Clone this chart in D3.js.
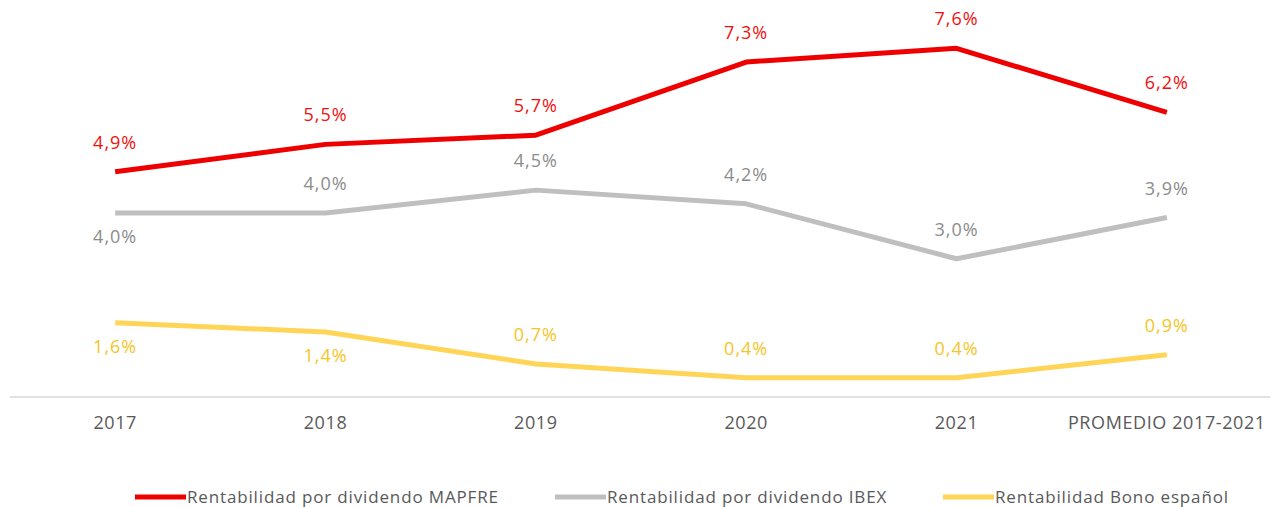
<!DOCTYPE html>
<html>
<head>
<meta charset="utf-8">
<script src="https://cdn.jsdelivr.net/npm/d3@7"></script>
<style>
  body { margin: 0; background: #fff; }
  text { font-family: "Open Sans", sans-serif; }
</style>
</head>
<body>
<script>
// datos
const categories = ['2017', '2018', '2019', '2020', '2021', 'PROMEDIO 2017-2021'];
const mapfre = [4.9, 5.5, 5.7, 7.3, 7.6, 6.2];
const ibex = [4.0, 4.0, 4.5, 4.2, 3.0, 3.9];
const bono = [1.6, 1.4, 0.7, 0.4, 0.4, 0.9];
const seriesNames = ['Rentabilidad por dividendo MAPFRE', 'Rentabilidad por dividendo IBEX', 'Rentabilidad Bono español'];
// posicion de la etiqueta: -1 encima, 1 debajo
const ibexLabelPos = [1, -1, -1, -1, -1, -1];
const bonoLabelPos = [1, 1, -1, -1, -1, -1];

const width = 1282;
const height = 507;

const svg = d3.select('body').append('svg')
    .attr('width', width)
    .attr('height', height);

const xScale = d3.scaleBand()
    .domain(categories)
    .range([10, 1272]);

const yScale = d3.scaleLinear()
    .domain([0, 8])
    .range([396, 30]);

const xPos = c => xScale(c) + xScale.bandwidth() / 2;
const fmt = v => v.toFixed(1).replace('.', ',') + '%';

// eje x
svg.append('line')
    .attr('x1', 10).attr('x2', 1270)
    .attr('y1', 397).attr('y2', 397)
    .attr('stroke', '#d9d9d9').attr('stroke-width', 1.5);

const xAxis = svg.append('g')
    .attr('transform', 'translate(0,397)')
    .call(d3.axisBottom(xScale).tickSize(0).tickPadding(19));
xAxis.select('.domain').remove();
xAxis.selectAll('text')
    .attr('fill', '#595959')
    .style('font-size', '18px')
    .style('letter-spacing', '0.6px')
    .style('font-family', '"Open Sans", sans-serif');

const series = [
    { name: seriesNames[0], values: mapfre, color: '#ee0000', labelColor: '#f01010', pos: mapfre.map(() => -1) },
    { name: seriesNames[1], values: ibex, color: '#bfbfbf', labelColor: '#8c8c8c', pos: ibexLabelPos },
    { name: seriesNames[2], values: bono, color: '#ffd557', labelColor: '#f5c528', pos: bonoLabelPos }
];

const line = d3.line()
    .x((d, i) => xPos(categories[i]))
    .y(d => yScale(d));

series.forEach(s => {
    svg.append('path')
        .datum(s.values)
        .attr('fill', 'none')
        .attr('stroke', s.color)
        .attr('stroke-width', 5)
        .attr('stroke-linejoin', 'round')
        .attr('d', line);

    svg.selectAll(null)
        .data(s.values)
        .enter()
        .append('text')
        .attr('x', (d, i) => xPos(categories[i]))
        .attr('y', (d, i) => yScale(d) + (s.pos[i] < 0 ? -23 : 30))
        .attr('text-anchor', 'middle')
        .attr('fill', s.labelColor)
        .style('font-size', '18px')
        .style('letter-spacing', '1px')
        .text(d => fmt(d));
});

// leyenda
const legendX = [135, 555, 943];
const legend = svg.selectAll('.legend')
    .data(series)
    .enter()
    .append('g')
    .attr('class', 'legend')
    .attr('transform', (d, i) => `translate(${legendX[i]}, 497)`);

legend.append('line')
    .attr('x1', 0).attr('x2', 51)
    .attr('stroke', d => d.color)
    .attr('stroke-width', 5);

legend.append('text')
    .attr('x', 52)
    .attr('y', 6)
    .attr('fill', '#595959')
    .style('font-size', '17px')
    .style('letter-spacing', '0.85px')
    .text(d => d.name);
</script>
</body>
</html>
